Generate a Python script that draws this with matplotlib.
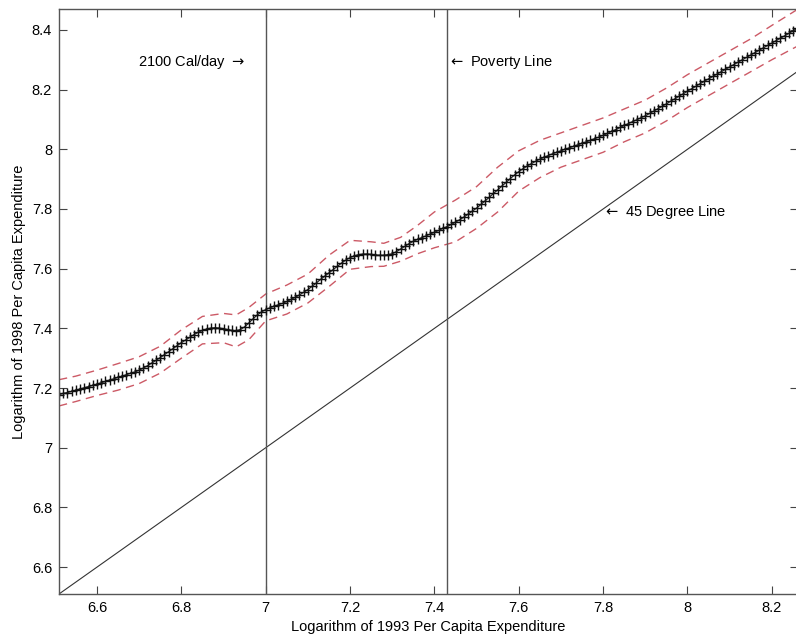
import matplotlib
matplotlib.use("Agg")
import matplotlib.pyplot as plt

plt.rcParams['font.family'] = ['Liberation Sans', 'DejaVu Sans']
plt.rcParams['mathtext.fontset'] = 'dejavusans'

# Central estimate (log 1993 pce -> log 1998 pce)
x_fit = [6.51, 6.52, 6.53, 6.54, 6.55, 6.56, 6.57, 6.58, 6.59, 6.60,
         6.61, 6.62, 6.63, 6.64, 6.65, 6.66, 6.67, 6.68, 6.69, 6.70,
         6.71, 6.72, 6.73, 6.74, 6.75, 6.76, 6.77, 6.78, 6.79, 6.80,
         6.81, 6.82, 6.83, 6.84, 6.85, 6.86, 6.87, 6.88, 6.89, 6.90,
         6.91, 6.92, 6.93, 6.94, 6.95, 6.96, 6.97, 6.98, 6.99, 7.00,
         7.01, 7.02, 7.03, 7.04, 7.05, 7.06, 7.07, 7.08, 7.09, 7.10,
         7.11, 7.12, 7.13, 7.14, 7.15, 7.16, 7.17, 7.18, 7.19, 7.20,
         7.21, 7.22, 7.23, 7.24, 7.25, 7.26, 7.27, 7.28, 7.29, 7.30,
         7.31, 7.32, 7.33, 7.34, 7.35, 7.36, 7.37, 7.38, 7.39, 7.40,
         7.41, 7.42, 7.43, 7.44, 7.45, 7.46, 7.47, 7.48, 7.49, 7.50,
         7.51, 7.52, 7.53, 7.54, 7.55, 7.56, 7.57, 7.58, 7.59, 7.60,
         7.61, 7.62, 7.63, 7.64, 7.65, 7.66, 7.67, 7.68, 7.69, 7.70,
         7.71, 7.72, 7.73, 7.74, 7.75, 7.76, 7.77, 7.78, 7.79, 7.80,
         7.81, 7.82, 7.83, 7.84, 7.85, 7.86, 7.87, 7.88, 7.89, 7.90,
         7.91, 7.92, 7.93, 7.94, 7.95, 7.96, 7.97, 7.98, 7.99, 8.00,
         8.01, 8.02, 8.03, 8.04, 8.05, 8.06, 8.07, 8.08, 8.09, 8.10,
         8.11, 8.12, 8.13, 8.14, 8.15, 8.16, 8.17, 8.18, 8.19, 8.20,
         8.21, 8.22, 8.23, 8.24, 8.25, 8.26]
y_fit = [7.178, 7.182, 7.185, 7.189, 7.193, 7.197, 7.201, 7.205, 7.209, 7.213,
         7.218, 7.222, 7.227, 7.231, 7.236, 7.240, 7.245, 7.250, 7.254, 7.260,
         7.267, 7.275, 7.284, 7.293, 7.302, 7.312, 7.322, 7.332, 7.342, 7.352,
         7.361, 7.370, 7.379, 7.387, 7.393, 7.398, 7.401, 7.402, 7.401, 7.399,
         7.396, 7.393, 7.392, 7.396, 7.405, 7.418, 7.432, 7.445, 7.455, 7.463,
         7.469, 7.474, 7.479, 7.484, 7.490, 7.497, 7.504, 7.512, 7.521, 7.530,
         7.541, 7.552, 7.564, 7.575, 7.586, 7.597, 7.608, 7.619, 7.629, 7.637,
         7.643, 7.647, 7.649, 7.649, 7.648, 7.646, 7.645, 7.645, 7.647, 7.650,
         7.657, 7.666, 7.675, 7.684, 7.692, 7.698, 7.704, 7.710, 7.716, 7.722,
         7.728, 7.735, 7.741, 7.748, 7.756, 7.764, 7.773, 7.783, 7.793, 7.803,
         7.815, 7.827, 7.839, 7.852, 7.864, 7.877, 7.889, 7.902, 7.914, 7.925,
         7.935, 7.944, 7.952, 7.960, 7.967, 7.973, 7.979, 7.985, 7.990, 7.995,
         8.000, 8.005, 8.010, 8.015, 8.020, 8.025, 8.030, 8.036, 8.041, 8.047,
         8.053, 8.060, 8.066, 8.073, 8.080, 8.086, 8.093, 8.099, 8.106, 8.112,
         8.120, 8.128, 8.136, 8.144, 8.152, 8.161, 8.169, 8.178, 8.186, 8.195,
         8.203, 8.211, 8.220, 8.228, 8.236, 8.244, 8.252, 8.260, 8.268, 8.276,
         8.284, 8.292, 8.300, 8.308, 8.316, 8.324, 8.332, 8.340, 8.348, 8.356,
         8.364, 8.372, 8.380, 8.388, 8.397, 8.405]

# Confidence band
x_band = [6.51, 6.55, 6.60, 6.65, 6.70, 6.75, 6.80, 6.85, 6.90, 6.93,
          6.96, 7.00, 7.05, 7.10, 7.15, 7.20, 7.25, 7.28, 7.32, 7.36,
          7.40, 7.45, 7.50, 7.55, 7.60, 7.65, 7.70, 7.75, 7.80, 7.85,
          7.90, 7.95, 8.00, 8.05, 8.10, 8.15, 8.20, 8.26]
y_upper = [7.228, 7.240, 7.260, 7.282, 7.305, 7.340, 7.395, 7.440, 7.450, 7.445,
           7.470, 7.515, 7.545, 7.582, 7.645, 7.695, 7.690, 7.685, 7.705, 7.745,
           7.790, 7.830, 7.875, 7.940, 7.995, 8.030, 8.055, 8.080, 8.105, 8.135,
           8.165, 8.205, 8.250, 8.290, 8.330, 8.370, 8.415, 8.468]
y_lower = [7.140, 7.155, 7.175, 7.193, 7.215, 7.250, 7.300, 7.348, 7.352, 7.338,
           7.362, 7.425, 7.448, 7.485, 7.540, 7.598, 7.607, 7.608, 7.625, 7.650,
           7.670, 7.690, 7.735, 7.790, 7.860, 7.905, 7.940, 7.965, 7.990, 8.025,
           8.055, 8.095, 8.140, 8.180, 8.220, 8.260, 8.300, 8.345]

x_min, x_max = 6.51, 8.262
y_min, y_max = 6.51, 8.47
cal_line = 7.0
poverty_line = 7.43
x_ticks = [6.6, 6.8, 7.0, 7.2, 7.4, 7.6, 7.8, 8.0, 8.2]
x_ticklabels = ['6.6', '6.8', '7', '7.2', '7.4', '7.6', '7.8', '8', '8.2']
y_ticks = [6.6, 6.8, 7.0, 7.2, 7.4, 7.6, 7.8, 8.0, 8.2, 8.4]
y_ticklabels = ['6.6', '6.8', '7', '7.2', '7.4', '7.6', '7.8', '8', '8.2', '8.4']

fig = plt.figure(figsize=(7.96, 6.44), dpi=100)
ax = fig.add_axes([59/796, 50/644, 739/796, 585/644])

band_color = '#cc5a66'
ax.plot(x_band, y_upper, color=band_color, lw=1.0, dashes=(6, 4))
ax.plot(x_band, y_lower, color=band_color, lw=1.0, dashes=(6, 4))

ax.plot([x_min, x_max], [x_min, x_max], color='#333333', lw=0.8)
ax.axvline(cal_line, color='#555555', lw=1.0)
ax.axvline(poverty_line, color='#555555', lw=1.0)

ax.plot(x_fit, y_fit, color='#222222', lw=0.9, marker='+', markersize=7,
        markeredgewidth=1.0, markeredgecolor='#111111')

ax.text(6.95, 8.293, '2100 Cal/day $\\rightarrow$', ha='right', va='center', fontsize=10.5)
ax.text(7.433, 8.293, '$\\leftarrow$ Poverty Line', ha='left', va='center', fontsize=10.5)
ax.text(7.80, 7.79, '$\\leftarrow$ 45 Degree Line', ha='left', va='center', fontsize=10.5)

ax.set_xlim(x_min, x_max)
ax.set_ylim(y_min, y_max)
ax.set_xticks(x_ticks)
ax.set_xticklabels(x_ticklabels)
ax.set_yticks(y_ticks)
ax.set_yticklabels(y_ticklabels)
ax.tick_params(direction='in', length=6, width=0.8, color='#444444',
               top=True, right=True, labelsize=10.5, pad=5)
for s in ax.spines.values():
    s.set_color('#555555')
    s.set_linewidth(1.0)

ax.set_xlabel('Logarithm of 1993 Per Capita Expenditure', fontsize=10.5, labelpad=4)
ax.set_ylabel('Logarithm of 1998 Per Capita Expenditure', fontsize=10.5, labelpad=4)

fig.savefig('out.png', dpi=100)
